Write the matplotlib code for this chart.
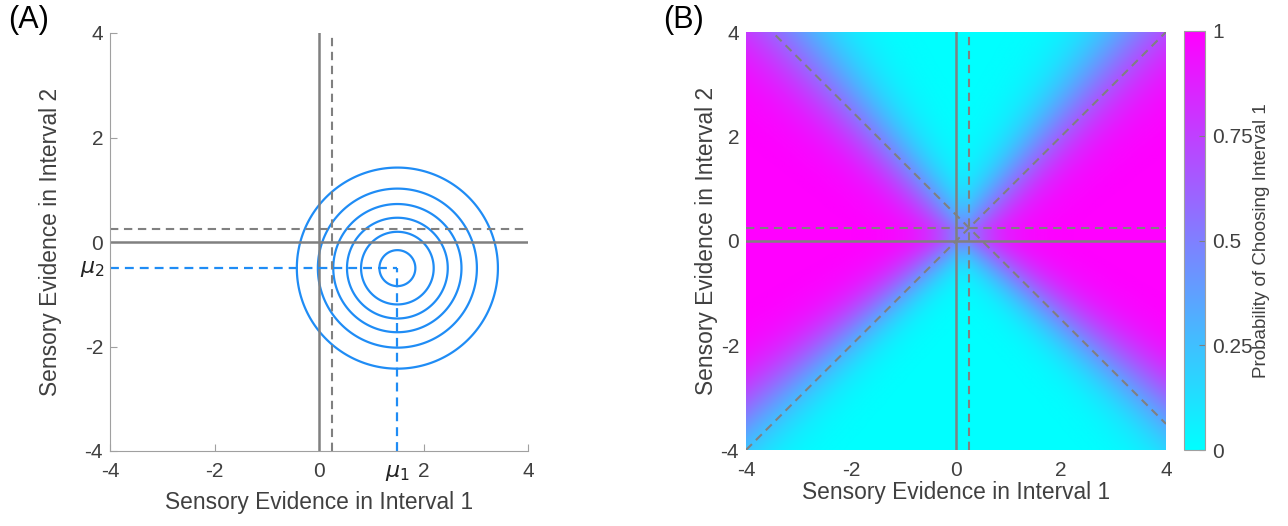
import math
import numpy as np
import matplotlib
matplotlib.use('Agg')
import matplotlib.pyplot as plt

plt.rcParams['font.family'] = ['Liberation Sans', 'DejaVu Sans']
plt.rcParams['axes.unicode_minus'] = False

# Axis settings
lim = [-4, 4]
ticks = [-4, -2, 0, 2, 4]
cbar_ticks = [0, 0.25, 0.5, 0.75, 1]
cbar_ticklabels = ['0', '0.25', '0.5', '0.75', '1']

# Panel A: bivariate normal of sensory evidence
mu = [1.5, -0.5]
sigma = 1.0
levels = [0.025, 0.05, 0.075, 0.1, 0.125, 0.15]
criteria = [0.0, 0.25]          # solid line, dashed line

# Panel B: choice model parameters
weight_up = 0.85
weight_down = 1.2
noise_base = 0.55
noise_slope = 0.1

gray = '#808080'
blue = '#1f8cf5'
txt = '#404040'
spine = '#a0a0a0'

def deadzone(v):
    d = np.where(v < criteria[0], v - criteria[0], 0.0)
    d = np.where(v > criteria[1], v - criteria[1], d)
    return d

erf = np.vectorize(math.erf)

def choice_probability(x1, x2):
    d1 = deadzone(x1)
    d2 = deadzone(x2)
    w = np.where(d2 > 0, weight_up, weight_down)
    s = noise_base + noise_slope*np.sqrt(d1**2 + d2**2)
    z = (np.abs(d1) - w*np.abs(d2))/s
    return 0.5*(1 + erf(z/np.sqrt(2)))

grid = np.linspace(lim[0], lim[1], 401)
X, Y = np.meshgrid(grid, grid)

fig = plt.figure(figsize=(12.88, 5.26), dpi=100)

# ---------------- Panel A
ax1 = fig.add_axes([110/1288, 75/526, 418/1288, 418/526])
Z = np.exp(-((X - mu[0])**2 + (Y - mu[1])**2)/(2*sigma**2))/(2*np.pi*sigma**2)
ax1.contour(X, Y, Z, levels=levels, colors=blue, linewidths=1.6)

ax1.plot([criteria[0], criteria[0]], lim, color=gray, lw=1.8)
ax1.plot(lim, [criteria[0], criteria[0]], color=gray, lw=1.8)
ax1.plot([criteria[1], criteria[1]], lim, color=gray, lw=1.5, dashes=(4, 2.7))
ax1.plot(lim, [criteria[1], criteria[1]], color=gray, lw=1.5, dashes=(4, 2.7))
ax1.plot([lim[0], mu[0]], [mu[1], mu[1]], color=blue, lw=1.6, dashes=(4, 2.7))
ax1.plot([mu[0], mu[0]], [lim[0], mu[1]], color=blue, lw=1.6, dashes=(4, 2.7))

ax1.set_xlim(lim)
ax1.set_ylim(lim)
ax1.set_xticks(ticks)
ax1.set_yticks(ticks)
for s in ['top', 'right']:
    ax1.spines[s].set_visible(False)
for s in ['left', 'bottom']:
    ax1.spines[s].set_color(spine)
ax1.tick_params(direction='in', length=5, color=spine, labelcolor=txt, labelsize=15)
ax1.tick_params(axis='x', pad=8)
ax1.tick_params(axis='y', pad=5)
ax1.set_xlabel('Sensory Evidence in Interval 1', fontsize=16.4, color=txt, va='center')
ax1.set_ylabel('Sensory Evidence in Interval 2', fontsize=16.4, color=txt, va='center')
ax1.xaxis.set_label_coords(0.5, -0.124)
ax1.yaxis.set_label_coords(-0.1435, 0.5)

ax1.annotate(r'$\mu_1$', xy=(mu[0], lim[0]), xytext=(0, -8), textcoords='offset points',
             ha='center', va='top', fontsize=16, color='#222222', annotation_clip=False)
ax1.annotate(r'$\mu_2$', xy=(lim[0], mu[1]), xytext=(-4, 0), textcoords='offset points',
             ha='right', va='center', fontsize=16, color='#222222', annotation_clip=False)

# ---------------- Panel B
ax2 = fig.add_axes([746/1288, 76/526, 420/1288, 418/526])
P = choice_probability(X, Y)
im = ax2.imshow(P, cmap='cool', vmin=0, vmax=1, origin='lower',
                extent=[lim[0], lim[1], lim[0], lim[1]], aspect='auto', interpolation='bilinear')

ax2.plot([criteria[0], criteria[0]], lim, color=gray, lw=1.8)
ax2.plot(lim, [criteria[0], criteria[0]], color=gray, lw=1.8)
ax2.plot([criteria[1], criteria[1]], lim, color=gray, lw=1.5, dashes=(4, 2.7))
ax2.plot(lim, [criteria[1], criteria[1]], color=gray, lw=1.5, dashes=(4, 2.7))
diag = np.array(lim, dtype=float)
ax2.plot(diag, diag, color=gray, lw=1.5, dashes=(4, 2.7))
ax2.plot(diag, 2*criteria[1] - diag, color=gray, lw=1.5, dashes=(4, 2.7))

ax2.set_xlim(lim)
ax2.set_ylim(lim)
ax2.set_xticks(ticks)
ax2.set_yticks(ticks)
for s in ax2.spines.values():
    s.set_visible(False)
ax2.tick_params(length=0, labelcolor=txt, labelsize=15)
ax2.tick_params(axis='x', pad=8)
ax2.tick_params(axis='y', pad=5)
ax2.set_xlabel('Sensory Evidence in Interval 1', fontsize=16.4, color=txt, va='center')
ax2.set_ylabel('Sensory Evidence in Interval 2', fontsize=16.4, color=txt, va='center')
ax2.xaxis.set_label_coords(0.5, -0.1005)
ax2.yaxis.set_label_coords(-0.095, 0.5)

cax = fig.add_axes([1184/1288, 76/526, 21/1288, 419/526])
cb = fig.colorbar(im, cax=cax, ticks=cbar_ticks)
cb.ax.set_yticklabels(cbar_ticklabels)
cb.outline.set_edgecolor(spine)
cb.ax.tick_params(direction='in', length=4, color=gray, labelcolor=txt, labelsize=15, pad=5)
cb.set_label('Probability of Choosing Interval 1', fontsize=13.5, color=txt, va='center')
cb.ax.yaxis.set_label_coords(3.7, 0.5)

fig.text(8/1288, 1 - 20/526, '(A)', fontsize=22, color='black', ha='left', va='center')
fig.text(663/1288, 1 - 20/526, '(B)', fontsize=22, color='black', ha='left', va='center')

fig.savefig('out.png', dpi=100)
